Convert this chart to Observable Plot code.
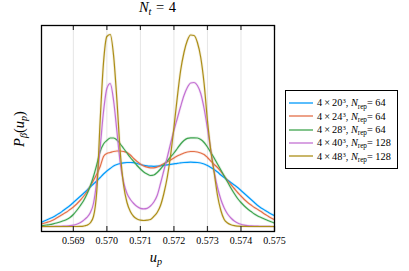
<!DOCTYPE html>
<html><head><meta charset="utf-8">
<script src="https://cdn.jsdelivr.net/npm/d3@7"></script>
<script src="https://cdn.jsdelivr.net/npm/@observablehq/plot@0.6"></script>
<style>
body{margin:0;background:#fff;}
#wrap{position:relative;width:409px;height:271px;font-family:"Liberation Serif","Times New Roman",serif;color:#000;overflow:hidden;}
#wrap > svg{position:absolute;left:0;top:0;}
.lbl{position:absolute;white-space:nowrap;line-height:1;}
.sb{font-size:70%;position:relative;top:0.3em;}
.sp{font-size:65%;position:relative;top:-0.45em;}
#title{left:41px;width:233px;top:0px;text-align:center;font-size:14.5px;word-spacing:1px;}
#ylab{left:19px;top:129px;font-size:14.5px;transform:translate(-50%,-50%) rotate(-90deg);}
#xlab{left:156px;top:250px;font-size:14.5px;transform:translateX(-50%);}
#legend{position:absolute;left:285px;top:89.5px;width:113px;height:79px;border:1px solid #000;box-sizing:border-box;padding-top:5.8px;background:#fff;}
.row{height:13.3px;display:flex;align-items:center;font-size:10.3px;white-space:nowrap;}
.row svg{display:block;margin-left:3px;margin-right:4px;flex:none;}
</style></head><body><div id="wrap"></div>
<script>
// plaquette values u_p (x grid)
const u = [0.5680,0.5681,0.5682,0.5683,0.5684,0.5685,0.5686,0.5687,0.5688,0.5689,
  0.5690,0.5691,0.5692,0.5693,0.5694,0.5695,0.5696,0.5697,0.5698,0.5699,
  0.5700,0.5701,0.5702,0.5703,0.5704,0.5705,0.5706,0.5707,0.5708,0.5709,
  0.5710,0.5711,0.5712,0.5713,0.5714,0.5715,0.5716,0.5717,0.5718,0.5719,
  0.5720,0.5721,0.5722,0.5723,0.5724,0.5725,0.5726,0.5727,0.5728,0.5729,
  0.5730,0.5731,0.5732,0.5733,0.5734,0.5735,0.5736,0.5737,0.5738,0.5739,
  0.5740,0.5741,0.5742,0.5743,0.5744,0.5745,0.5746,0.5747,0.5748,0.5749,0.5750];

// P_beta(u_p), arbitrary units
const P20 = [3,5,6.5,8,9.5,11.5,13.5,16,18.5,21,24,27,30,33,36,39.5,42.5,45.5,49,52.5,
  55.5,58,60.5,62,63,63.7,64,64,63.8,63,62,61.2,60.7,60.4,60.2,60.3,60.7,61.2,61.7,62.2,
  62.7,63.2,63.6,64,64.2,64.3,64.2,64,63.5,62.5,61,59,57,54.5,51.5,49,46.5,44,41.5,39,
  36,33,30,27,24,21,18.5,16.5,14.5,12.5,11];
const P24 = [2,3,4,5,6.5,8.5,10.5,12.5,14.5,17,19.5,22.5,26,30,34.5,40,46,52.5,60,70,
  73,74,75,75.5,75.5,75,74,71.5,68,65,62.5,60.5,59.3,58.7,58.7,59.5,61,63,64.5,66.5,
  68.5,70.5,72,73.5,74.5,75,75,74.5,73.5,72,69,65.5,62,59,55,50.5,46,42,38,34,
  30.5,27,24,21.5,19,17,15,12.5,10.5,8.5,7];
const P28 = [0.5,1,1.5,2,2.7,3.5,4.5,5.7,7,9,12,16,20.5,25.5,32,40,50,62,75,82.5,
  86,88.5,88.5,86.5,82.5,78,73.5,69,65,61,57.5,54.5,52.5,51,51.5,54,57.5,61.5,65.5,69.5,
  73.5,78,82.5,86,88.2,88.7,88.7,88.5,87,84,79.5,74,68.5,62.5,56.5,50.5,44.5,38.5,33,28,
  24,20.5,17.5,15,12.5,10.5,9,7.5,6,4.7,3.5];
const P40 = [0,0,0,0,0,0.1,0.2,0.3,0.5,0.8,1.3,2.2,3.7,6,9,13.5,23,46,79,115,
  138,143,126,95,63,44,33,27,23,20,18.2,17.7,18.2,20.5,24.5,31,43,56,69,83,
  96,108,120,131,139,143.5,144,141,133,118,98,76,55,39,27,18.5,12.5,8.5,5.5,3.5,
  2.2,1.4,0.9,0.6,0.4,0.3,0.2,0.1,0.1,0,0];
const P48 = [0,0,0,0,0,0,0,0,0,0,0,0,0.1,0.4,1.2,3.5,10,36,106,164,
  190,192,171,126,74,41,24,15,10,7.5,6.3,6,6.3,7,10,14,21,33,49,71,
  99,129,156,174,186,191.5,191,184,169,143,106,76,54,31,16,7,3.5,1.7,0.8,0.4,
  0.2,0.1,0,0,0,0,0,0,0,0,0];

const Ns = [20, 24, 28, 40, 48];
const Nrep = [64, 64, 64, 128, 128];
const colors = ["#009AFA", "#E36F47", "#3EA44E", "#C371D2", "#AC8E18"];
const xTicks = [0.569, 0.570, 0.571, 0.572, 0.573, 0.574, 0.575];

const values = [P20, P24, P28, P40, P48];
const series = Ns.map((n, i) => ({n, rep: Nrep[i], color: colors[i],
  rows: u.map((x, j) => ({u: x, p: values[i][j]}))}));

const plot = Plot.plot({
  width: 409, height: 271,
  marginLeft: 41, marginRight: 135, marginTop: 25, marginBottom: 40,
  x: {domain: [0.56805, 0.575], axis: null},
  y: {domain: [-5, 201], axis: null},
  style: {background: "transparent", fontFamily: "Liberation Serif, serif"},
  marks: [
    Plot.gridX(xTicks, {stroke: "#000", strokeOpacity: 0.1, strokeWidth: 1}),
    ...series.map(s => Plot.line(s.rows, {x: "u", y: "p", stroke: s.color, strokeWidth: 2.8, strokeOpacity: 0.15, curve: "monotone-x", clip: true})),
    ...series.map(s => Plot.line(s.rows, {x: "u", y: "p", stroke: s.color, strokeWidth: 1.2, curve: "monotone-x", clip: true})),
    Plot.tickX(xTicks, {x: d => d, insetBottom: 201, stroke: "#333", strokeWidth: 1.2}),
    Plot.tickX(xTicks, {x: d => d, insetTop: 201, stroke: "#333", strokeWidth: 1.2}),
    Plot.frame({stroke: "#000", strokeWidth: 1.3}),
    Plot.axisX(xTicks, {tickSize: 0, tickPadding: 5, tickFormat: d3.format(".3f"), fontSize: 10, label: null})
  ]
});

const wrap = document.getElementById("wrap");
wrap.appendChild(plot);

const add = (id, html) => { const d = document.createElement("div"); d.className = "lbl"; d.id = id; d.innerHTML = html; wrap.appendChild(d); };
add("title", '<i>N</i><span class="sb"><i>t</i></span> = 4');
add("ylab", '<i>P</i><span class="sb"><i>β</i></span>(<i>u</i><span class="sb"><i>p</i></span>)');
add("xlab", '<i>u</i><span class="sb"><i>p</i></span>');

const leg = document.createElement("div");
leg.id = "legend";
leg.innerHTML = series.map(s =>
  `<div class="row"><svg width="24" height="4"><line x1="0" x2="24" y1="2" y2="2" stroke="${s.color}" stroke-width="1.3"/></svg>` +
  `<span>4\u2009×\u2009${s.n}<span class="sp">3</span>, <i>N</i><span class="sb">rep</span>= ${s.rep}</span></div>`).join("");
wrap.appendChild(leg);
</script></body></html>
